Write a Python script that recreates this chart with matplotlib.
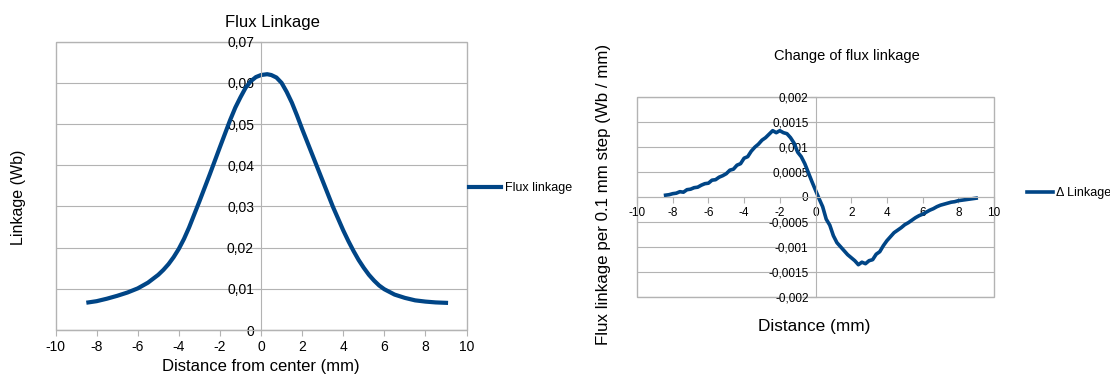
import numpy as np
import matplotlib.pyplot as plt
from matplotlib.patches import Rectangle
from matplotlib.ticker import FuncFormatter

plt.rcParams['font.family'] = ['Liberation Sans', 'DejaVu Sans']
plt.rcParams['axes.unicode_minus'] = False

# Flux linkage vs distance from center (mm)
dist_flux = [-8.4, -8.0, -7.5, -7.0, -6.5, -6.0, -5.5, -5.0, -4.75, -4.5,
             -4.25, -4.0, -3.75, -3.5, -3.0, -2.5, -2.0, -1.5, -1.25, -1.0,
             -0.75, -0.5, -0.25, 0.0, 0.3, 0.5, 0.75, 1.0, 1.25, 1.5,
             1.75, 2.0, 2.5, 3.0, 3.5, 4.0, 4.25, 4.5, 4.75, 5.0,
             5.25, 5.5, 5.75, 6.0, 6.5, 7.0, 7.5, 8.0, 8.5, 9.0]
flux = [0.0067, 0.0070, 0.0076, 0.0083, 0.0091, 0.0101, 0.0115, 0.0134, 0.0146, 0.0160,
        0.0177, 0.0197, 0.0221, 0.0249, 0.0312, 0.0377, 0.0444, 0.0510, 0.0540, 0.0565,
        0.0588, 0.0604, 0.0614, 0.0619, 0.0621, 0.0619, 0.0613, 0.0600, 0.0578, 0.0552,
        0.0521, 0.0488, 0.0425, 0.0362, 0.0299, 0.0242, 0.0216, 0.0192, 0.0170, 0.0151,
        0.0134, 0.0120, 0.0108, 0.0099, 0.0086, 0.0078, 0.0072, 0.0069, 0.0067, 0.0066]

# Change of flux linkage per 0.1 mm step, sampled every 0.2 mm from -8.4 to 9.0
dist_delta = np.round(np.arange(-8.4, 9.01, 0.2), 1)
delta = [0.00003, 0.00004, 0.00006, 0.00007, 0.00010, 0.00009, 0.00014, 0.00015,
         0.00018, 0.00019, 0.00023, 0.00026, 0.00027, 0.00033, 0.00034, 0.00039,
         0.00042, 0.00046, 0.00053, 0.00055, 0.00063, 0.00066, 0.00077, 0.00080,
         0.00091, 0.00099, 0.00105, 0.00113, 0.00118, 0.00125, 0.00132, 0.00128,
         0.00132, 0.00128, 0.00126, 0.00118, 0.00107, 0.00089, 0.00080, 0.00066,
         0.00048, 0.00030,
         0.00013, -0.00004, -0.00020, -0.00045, -0.00057, -0.00078, -0.00092, -0.00100,
         -0.00108, -0.00116, -0.00122, -0.00128, -0.00136, -0.00131, -0.00134, -0.00128,
         -0.00126, -0.00115, -0.00110, -0.00098, -0.00088, -0.00080, -0.00072, -0.00067,
         -0.00062, -0.00056, -0.00052, -0.00047, -0.00042, -0.00038, -0.00035, -0.00031,
         -0.00027, -0.00024, -0.00020, -0.00017, -0.00015, -0.00013, -0.00011, -0.00010,
         -0.00008, -0.00007, -0.00006, -0.00005, -0.00004, -0.00003]

blue = '#004586'
grid_c = '#b3b3b3'


def comma(v, pos):
    s = ('%g' % v).replace('.', ',')
    return '0' if s in ('-0', '0') else s


def style_axes(ax, fs):
    ax.grid(axis='y', color=grid_c, linewidth=0.8)
    ax.set_axisbelow(True)
    for side in ('top', 'right'):
        ax.spines[side].set_visible(False)
    ax.spines['left'].set_position(('data', 0))
    ax.spines['left'].set_color(grid_c)
    ax.spines['bottom'].set_color(grid_c)
    ax.add_patch(Rectangle((0, 0), 1, 1, transform=ax.transAxes, fill=False,
                           edgecolor=grid_c, linewidth=1.0, clip_on=False, zorder=0))
    ax.tick_params(colors=grid_c, labelcolor='black', labelsize=fs, length=4, width=0.8)
    ax.yaxis.set_major_formatter(FuncFormatter(comma))
    ax.set_xlim(-10, 10)
    ax.set_xticks(range(-10, 11, 2))


fig = plt.figure(figsize=(11.1, 3.74), dpi=100)

# Left chart
ax1 = fig.add_axes([0.05, 0.1176, 0.3703, 0.771])
ax1.plot(dist_flux, flux, color=blue, linewidth=3, label='Flux linkage')
ax1.set_ylim(0, 0.07)
ax1.set_yticks(np.arange(0, 0.0701, 0.01))
style_axes(ax1, 10)
ax1.tick_params(axis='y', pad=1)
fig.text(0.245, 0.939, 'Flux Linkage', ha='center', va='center', fontsize=12)
fig.text(0.235, 0.02, 'Distance from center (mm)', ha='center', va='center', fontsize=12)
fig.text(0.0168, 0.473, 'Linkage (Wb)', ha='center', va='center', rotation=90, fontsize=11.5)
fig.legend(handles=ax1.get_lines(), loc='center left', bbox_to_anchor=(0.4228, 0.4965),
           frameon=False, fontsize=9, handlelength=2.5, handletextpad=0.32,
           borderpad=0, borderaxespad=0)

# Right chart
ax2 = fig.add_axes([0.5739, 0.2067, 0.3216, 0.5348])
ax2.plot(dist_delta, delta, color=blue, linewidth=2.6, label='\u0394 Linkage')
ax2.set_ylim(-0.002, 0.002)
ax2.set_yticks(np.arange(-0.002, 0.00201, 0.0005))
style_axes(ax2, 8.5)
ax2.spines['bottom'].set_position(('data', 0))
ax2.tick_params(axis='y', pad=1)
fig.text(0.763, 0.850, 'Change of flux linkage', ha='center', va='center', fontsize=10.5)
fig.text(0.7333, 0.128, 'Distance (mm)', ha='center', va='center', fontsize=12.4)
fig.text(0.544, 0.479, 'Flux linkage per 0.1 mm step (Wb / mm)', ha='center', va='center',
         rotation=90, fontsize=12.2)
fig.legend(handles=ax2.get_lines(), loc='center left', bbox_to_anchor=(0.925, 0.484),
           frameon=False, fontsize=9, handlelength=2.1, handletextpad=0.28,
           borderpad=0, borderaxespad=0)

fig.savefig('out.png', dpi=100)
